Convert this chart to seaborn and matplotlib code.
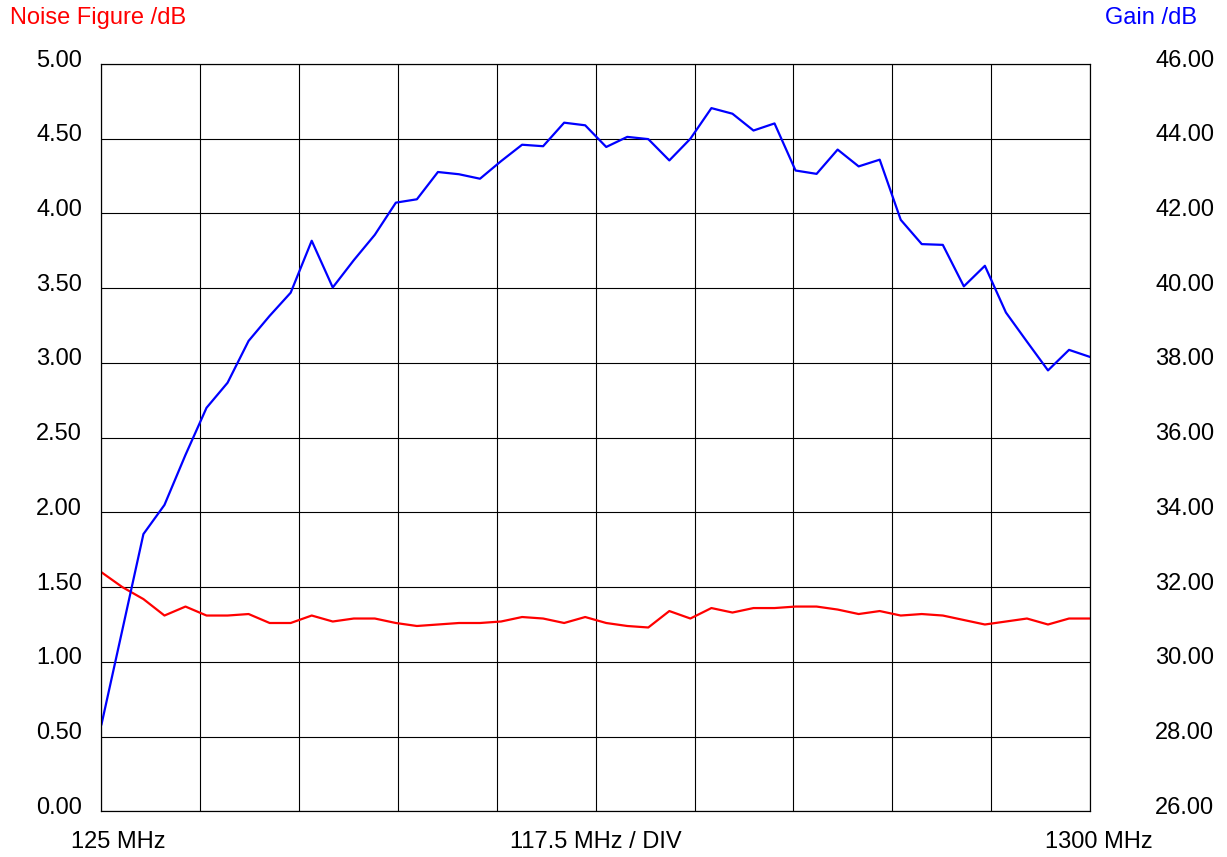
import numpy as np
import pandas as pd
import matplotlib
matplotlib.use("Agg")
import matplotlib.pyplot as plt
import matplotlib.transforms as mtransforms
import seaborn as sns

# sweep 125 .. 1300 MHz, 25 MHz steps (117.5 MHz / DIV)
freq_mhz = np.arange(125, 1301, 25)

noise_figure_db = [1.60, 1.50, 1.42, 1.31, 1.37, 1.31, 1.31, 1.32, 1.26, 1.26,
                   1.31, 1.27, 1.29, 1.29, 1.26, 1.24, 1.25, 1.26, 1.26, 1.27,
                   1.30, 1.29, 1.26, 1.30, 1.26, 1.24, 1.23, 1.34, 1.29, 1.36,
                   1.33, 1.36, 1.36, 1.37, 1.37, 1.35, 1.32, 1.34, 1.31, 1.32,
                   1.31, 1.28, 1.25, 1.27, 1.29, 1.25, 1.29, 1.29]

gain_db = [28.31, 30.86, 33.42, 34.20, 35.54, 36.80, 37.47, 38.59, 39.26, 39.88,
           41.27, 40.02, 40.75, 41.43, 42.29, 42.38, 43.11, 43.05, 42.93, 43.40,
           43.84, 43.80, 44.43, 44.36, 43.78, 44.05, 43.99, 43.42, 44.00, 44.82,
           44.67, 44.22, 44.41, 43.15, 43.06, 43.71, 43.26, 43.44, 41.83, 41.18,
           41.16, 40.05, 40.60, 39.35, 38.57, 37.80, 38.35, 38.16]

nf_ticks = np.arange(0, 5.01, 0.5)
gain_ticks = np.arange(26, 46.01, 2)
x_ticks = np.linspace(125, 1300, 11)
x_labels = ["125 MHz", "", "", "", "", "117.5 MHz / DIV", "", "", "", "", "1300 MHz"]

df = pd.DataFrame({"freq": freq_mhz, "nf": noise_figure_db, "gain": gain_db})

sns.set_style("white")
plt.rcParams["font.family"] = ["Liberation Sans", "DejaVu Sans"]
plt.rcParams["font.size"] = 17

fig = plt.figure(figsize=(12.27, 8.57), dpi=100)
ax = fig.add_axes([0.0826, 0.0533, 0.8058, 0.8720])
ax2 = ax.twinx()

sns.lineplot(data=df, x="freq", y="nf", ax=ax, color="#ff0000", linewidth=1.6)
sns.lineplot(data=df, x="freq", y="gain", ax=ax2, color="#0000ff", linewidth=1.6)

ax.set_xlim(125, 1300)
ax.set_ylim(0, 5)
ax2.set_ylim(26, 46)
ax.set_xticks(x_ticks)
ax.set_xticklabels(x_labels)
ax.set_yticks(nf_ticks)
ax.set_yticklabels([f"{v:.2f}" for v in nf_ticks])
ax2.set_yticks(gain_ticks)
ax2.set_yticklabels([f"{v:.2f}" for v in gain_ticks], ha="left")

ax.grid(True, color="black", linewidth=0.8)
ax.set_axisbelow(True)
ax.tick_params(axis="both", length=0, labelcolor="black")
ax.tick_params(axis="y", pad=14)
ax.tick_params(axis="x", pad=14)
ax2.tick_params(axis="y", length=0, pad=47, labelcolor="black")
ax.set_xlabel("")
ax.set_ylabel("")
ax2.set_ylabel("")

for a in (ax, ax2):
    for s in a.spines.values():
        s.set_color("black")
        s.set_linewidth(0.8)

# shift y tick labels slightly upward
up = mtransforms.ScaledTranslation(0, 0.06, fig.dpi_scale_trans)
for lab in ax.get_yticklabels() + ax2.get_yticklabels():
    lab.set_transform(lab.get_transform() + up)
xlabs = ax.get_xticklabels()
xlabs[0].set_transform(xlabs[0].get_transform() + mtransforms.ScaledTranslation(0.17, 0, fig.dpi_scale_trans))
xlabs[-1].set_transform(xlabs[-1].get_transform() + mtransforms.ScaledTranslation(0.09, 0, fig.dpi_scale_trans))

fig.text(10 / 1227, 1 - 18 / 857, "Noise Figure /dB", color="#ff0000", fontsize=17, ha="left", va="center")
fig.text(1105 / 1227, 1 - 18 / 857, "Gain /dB", color="#0000ff", fontsize=17, ha="left", va="center")

fig.savefig("out.png", dpi=100)
